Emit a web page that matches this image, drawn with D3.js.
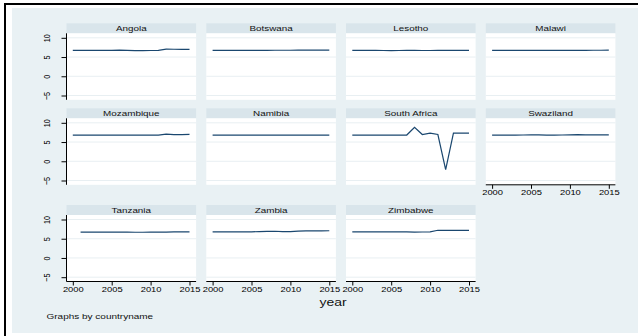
<!DOCTYPE html>
<html>
<head>
<meta charset="utf-8">
<script src="https://cdn.jsdelivr.net/npm/d3@7"></script>
<style>
  html, body { margin: 0; padding: 0; background: #ffffff; }
  svg { display: block; }
  text { font-family: "Liberation Sans", Arial, sans-serif; }
</style>
</head>
<body>
<svg id="chart" width="638" height="336"></svg>
<script>
// Years on the x axis
const years = [2000, 2001, 2002, 2003, 2004, 2005, 2006, 2007,
               2008, 2009, 2010, 2011, 2012, 2013, 2014, 2015];

// Panel titles, in panel order
const countries = ["Angola", "Botswana", "Lesotho", "Malawi",
                   "Mozambique", "Namibia", "South Africa", "Swaziland",
                   "Tanzania", "Zambia", "Zimbabwe"];

// One value per year for each country (null = no observation)
const angola     = [6.72, 6.72, 6.72, 6.72, 6.73, 6.75, 6.78, 6.74, 6.65, 6.66, 6.70, 6.74, 7.07, 7.02, 6.98, 6.98];
const botswana   = [6.72, 6.72, 6.72, 6.72, 6.72, 6.72, 6.73, 6.75, 6.76, 6.76, 6.77, 6.78, 6.78, 6.78, 6.79, 6.79];
const lesotho    = [6.72, 6.72, 6.72, 6.71, 6.70, 6.67, 6.70, 6.72, 6.75, 6.70, 6.70, 6.74, 6.74, 6.74, 6.74, 6.74];
const malawi     = [6.72, 6.72, 6.72, 6.72, 6.72, 6.72, 6.72, 6.72, 6.72, 6.73, 6.74, 6.71, 6.74, 6.76, 6.76, 6.78];
const mozambique = [6.78, 6.78, 6.78, 6.78, 6.78, 6.78, 6.78, 6.78, 6.78, 6.78, 6.80, 6.82, 7.05, 6.95, 6.95, 6.97];
const namibia    = [6.80, 6.80, 6.80, 6.80, 6.80, 6.80, 6.80, 6.80, 6.80, 6.80, 6.80, 6.80, 6.80, 6.80, 6.80, 6.80];
const southAfrica= [6.78, 6.78, 6.80, 6.82, 6.82, 6.82, 6.82, 6.82, 8.85, 6.95, 7.30, 6.95, -2.20, 7.30, 7.30, 7.30];
const swaziland  = [6.82, 6.82, 6.82, 6.82, 6.83, 6.84, 6.84, 6.82, 6.82, 6.83, 6.86, 6.90, 6.86, 6.84, 6.84, 6.84];
const tanzania   = [null, 6.72, 6.72, 6.72, 6.72, 6.72, 6.72, 6.70, 6.68, 6.68, 6.70, 6.72, 6.74, 6.76, 6.78, 6.80];
const zambia     = [6.80, 6.80, 6.80, 6.80, 6.80, 6.80, 6.85, 6.90, 6.95, 6.85, 6.85, 7.00, 7.02, 7.03, 7.05, 7.08];
const zimbabwe   = [6.80, 6.80, 6.80, 6.80, 6.80, 6.80, 6.80, 6.78, 6.72, 6.75, 6.80, 7.20, 7.15, 7.15, 7.15, 7.15];

const seriesValues = [angola, botswana, lesotho, malawi, mozambique, namibia,
                      southAfrica, swaziland, tanzania, zambia, zimbabwe];

// Axis tick values and titles
const xTicks = [2000, 2005, 2010, 2015];
const yTicks = [-5, 0, 5, 10];
const xTitle = "year";
const noteText = "Graphs by countryname";

// ---- layout ----
const W = 638, H = 336;
const colLeft = [66.5, 206.3, 346, 485.8];
const stripTop = [23.3, 108.3, 205];
const panelW = 129.6, stripH = 10, plotH = 66.5;
const nCols = 4;

const C = {
  graphBg: "#e9f1f4",
  strip: "#d9e5eb",
  grid: "#e8eff2",
  line: "#1a476f",
  axis: "#000000",
  text: "#111111"
};

const svg = d3.select("#chart");

// outer frame and graph region
svg.append("rect").attr("x", 12).attr("y", 8).attr("width", W - 12).attr("height", 325)
  .attr("fill", C.graphBg);
svg.append("line").attr("x1", 5).attr("x2", 5).attr("y1", 3).attr("y2", H)
  .attr("stroke", "#000").attr("stroke-width", 2);
svg.append("line").attr("x1", 4).attr("x2", W).attr("y1", 4).attr("y2", 4)
  .attr("stroke", "#000").attr("stroke-width", 2);

const n = countries.length;

countries.forEach((name, i) => {
  const row = Math.floor(i / nCols), col = i % nCols;
  const left = colLeft[col];
  const sTop = stripTop[row];
  const pTop = sTop + stripH;
  const pBot = pTop + plotH;

  const x = d3.scaleLinear().domain([2000, 2015]).range([left + 6.3, left + 123]);
  const y = d3.scaleLinear().domain([-5, 10]).range([pBot - 4.3, pTop + 4.5]);

  const g = svg.append("g").attr("class", "panel");

  // title strip
  g.append("rect").attr("x", left).attr("y", sTop).attr("width", panelW).attr("height", stripH)
    .attr("fill", C.strip);
  g.append("text")
    .attr("transform", `translate(${left + panelW / 2},${sTop + 7.7}) scale(1.37,1)`)
    .attr("text-anchor", "middle").attr("font-size", 7.2).attr("fill", C.text)
    .text(name);

  // plot region
  g.append("rect").attr("x", left).attr("y", pTop).attr("width", panelW).attr("height", plotH)
    .attr("fill", "#ffffff");

  // horizontal gridlines
  g.append("g").selectAll("line").data(yTicks).join("line")
    .attr("x1", left).attr("x2", left + panelW)
    .attr("y1", d => y(d)).attr("y2", d => y(d))
    .attr("stroke", C.grid).attr("stroke-width", 1);

  // data line
  const pts = years.map((yr, k) => ({ yr, v: seriesValues[i][k] }));
  g.append("path")
    .datum(pts)
    .attr("fill", "none").attr("stroke", C.line).attr("stroke-width", 1.2)
    .attr("stroke-linejoin", "miter")
    .attr("d", d3.line().defined(d => d.v !== null).x(d => x(d.yr)).y(d => y(d.v)));

  // y axis on the first column
  if (col === 0) {
    const ya = g.append("g").attr("transform", `translate(${left},0)`)
      .call(d3.axisLeft(y).tickValues(yTicks).tickSize(5).tickSizeOuter(0));
    ya.select(".domain").remove();
    ya.selectAll(".tick line").attr("stroke", C.axis);
    ya.selectAll(".tick text")
      .attr("x", null).attr("dy", null)
      .attr("transform", "translate(-16.5,0) scale(1.3,1) rotate(-90)")
      .attr("text-anchor", "middle").attr("font-size", 7.2).attr("fill", C.axis);
    g.append("line").attr("x1", left).attr("x2", left).attr("y1", pTop).attr("y2", pBot)
      .attr("stroke", C.axis).attr("stroke-width", 1);
  }

  // x axis under the last panel of each column
  if (i + nCols >= n) {
    const xa = g.append("g").attr("transform", `translate(0,${pBot})`)
      .call(d3.axisBottom(x).tickValues(xTicks).tickFormat(d3.format("d")).tickSize(4).tickSizeOuter(0));
    xa.select(".domain").remove();
    xa.selectAll(".tick line").attr("stroke", C.axis);
    xa.selectAll(".tick text")
      .attr("y", null).attr("dy", null)
      .attr("transform", "translate(0,10.2) scale(1.3,1)")
      .attr("text-anchor", "middle").attr("font-size", 7.2).attr("fill", C.axis);
    g.append("line").attr("x1", left).attr("x2", left + panelW).attr("y1", pBot).attr("y2", pBot)
      .attr("stroke", C.axis).attr("stroke-width", 1);
  }
});

// axis title and note
svg.append("text")
  .attr("transform", "translate(333,306) scale(1.4,1)")
  .attr("text-anchor", "middle").attr("font-size", 10).attr("fill", C.text)
  .text(xTitle);

svg.append("text")
  .attr("transform", "translate(46.5,319) scale(1.25,1)")
  .attr("font-size", 8).attr("fill", C.text)
  .text(noteText);
</script>
</body>
</html>
